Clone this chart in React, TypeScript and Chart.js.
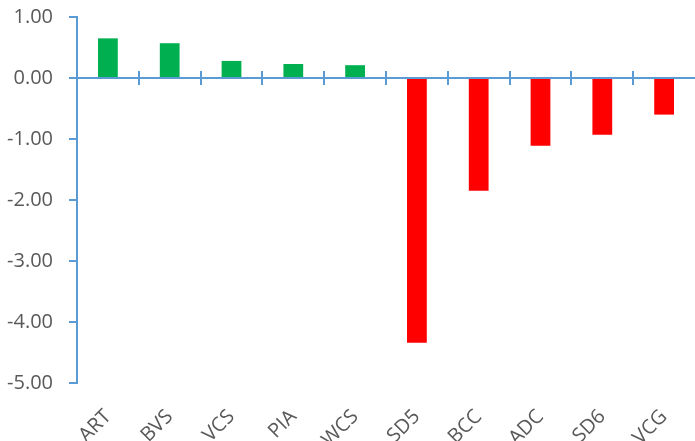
import React, { useEffect, useRef } from "react";
import { Chart, registerables } from "chart.js";

Chart.register(...registerables);

const categories = ["ART", "BVS", "VCS", "PIA", "WCS", "SD5", "BCC", "ADC", "SD6", "VCG"];
const values = [0.65, 0.57, 0.28, 0.23, 0.21, -4.34, -1.85, -1.11, -0.93, -0.6];
const yMin = -5;
const yMax = 1;
const yStep = 1;

const POS = "#00B050";
const NEG = "#FF0000";
const AXIS = "#5B9BD5";
const TEXT = "#595959";
const FONT = "'Open Sans', 'Noto Sans', sans-serif";

const zeroAxis = {
  id: "zeroAxis",
  afterDatasetsDraw(chart: any) {
    const { ctx, chartArea } = chart;
    const xs = chart.scales.x;
    const ys = chart.scales.y;
    const y0 = ys.getPixelForValue(0);
    ctx.save();
    ctx.strokeStyle = AXIS;
    ctx.lineWidth = 2;
    ctx.beginPath();
    ctx.moveTo(chartArea.left, y0);
    ctx.lineTo(chartArea.right, y0);
    for (let i = 1; i < categories.length; i++) {
      const px = Math.round((xs.getPixelForValue(i - 1) + xs.getPixelForValue(i)) / 2);
      ctx.moveTo(px, y0 - 7);
      ctx.lineTo(px, y0 + 7);
    }
    ctx.stroke();
    ctx.restore();
  },
};

export default function App() {
  const ref = useRef<HTMLCanvasElement>(null);
  useEffect(() => {
    if (!ref.current) return;
    const chart = new Chart(ref.current, {
      type: "bar",
      data: {
        labels: categories,
        datasets: [
          {
            data: values,
            backgroundColor: values.map((v) => (v >= 0 ? POS : NEG)),
            barPercentage: 0.32,
            categoryPercentage: 1,
          },
        ],
      },
      options: {
        responsive: false,
        animation: false,
        layout: { padding: { top: 17, right: 0, left: 0, bottom: 0 } },
        plugins: { legend: { display: false }, tooltip: { enabled: false } },
        scales: {
          x: {
            grid: { display: false },
            border: { display: false },
            ticks: {
              minRotation: 45,
              maxRotation: 45,
              color: TEXT,
              font: { family: FONT, size: 20 },
              padding: 14,
            },
            afterFit(s: any) {
              s.height = 58;
              s.paddingTop = 0;
              s.paddingBottom = 0;
              s.paddingRight = 0;
            },
          },
          y: {
            min: yMin,
            max: yMax,
            ticks: {
              stepSize: yStep,
              color: TEXT,
              font: { family: FONT, size: 20 },
              padding: 16,
              callback: (v: any) => Number(v).toFixed(2),
            },
            grid: {
              drawOnChartArea: false,
              drawTicks: true,
              tickLength: 8,
              color: AXIS,
              lineWidth: 2,
            },
            border: { display: true, color: AXIS, width: 2 },
            afterFit(s: any) {
              s.width = 77;
              s.paddingTop = 0;
              s.paddingBottom = 0;
            },
          },
        },
      },
      plugins: [zeroAxis],
    });
    return () => chart.destroy();
  }, []);
  return (
    <div style={{ position: "absolute", left: 0, top: 0, width: 695, height: 441, background: "#fff" }}>
      <canvas ref={ref} width={695} height={441} style={{ display: "block" }} />
    </div>
  );
}
